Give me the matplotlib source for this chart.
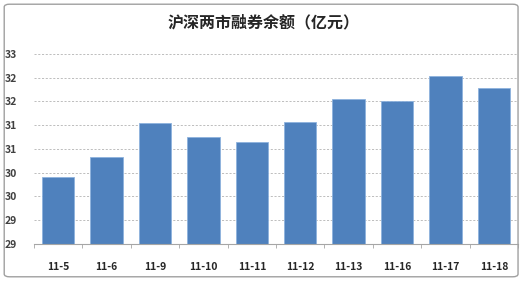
import numpy as np
from matplotlib import pyplot as plt
from matplotlib.patches import FancyBboxPatch
from matplotlib.ticker import FuncFormatter, MultipleLocator, FixedLocator

plt.rcParams['font.family'] = ['Noto Sans CJK SC', 'DejaVu Sans']

# data
dates = ['11-5', '11-6', '11-9', '11-10', '11-11', '11-12', '11-13', '11-16', '11-17', '11-18']
balance = [29.92, 30.33, 31.05, 30.75, 30.65, 31.06, 31.55, 31.50, 32.04, 31.78]

fig = plt.figure(figsize=(5.27, 2.81), dpi=100)
ax = fig.add_axes([0.0645, 0.1317, 0.9185, 0.6763])

x = np.arange(len(dates))
ax.bar(x, balance, width=0.67, bottom=0, color='#4F81BD', edgecolor='#8EB2DD', linewidth=0.6, zorder=3)

ax.set_ylim(28.5, 32.5)
ax.set_xlim(-0.5, len(dates) - 0.5)
ax.yaxis.set_major_locator(MultipleLocator(0.5))
# Excel-style rounding: 29.5 -> 30
ax.yaxis.set_major_formatter(FuncFormatter(lambda v, p: '%d' % int(np.floor(v + 0.5))))
ax.grid(axis='y', color='#B3B3B3', linestyle=(0, (2.5, 2)), linewidth=0.6, zorder=0)

ax.set_xticks(x)
ax.set_xticklabels(dates)
ax.xaxis.set_minor_locator(FixedLocator(np.arange(-0.5, len(dates), 1.0)))
ax.tick_params(axis='x', which='major', length=0, pad=13, labelsize=7.5, labelcolor='#262626')
ax.tick_params(axis='x', which='minor', length=3, color='#A6A6A6', direction='out')
ax.tick_params(axis='y', length=0, pad=12, labelsize=7.5, labelcolor='#404040')
for lab in ax.get_xticklabels() + ax.get_yticklabels():
    lab.set_fontweight('bold')

for side in ['left', 'right', 'top']:
    ax.spines[side].set_visible(False)
ax.spines['bottom'].set_color('#A6A6A6')
ax.spines['bottom'].set_zorder(4)

fig.text(0.5, 0.92, '沪深两市融券余额（亿元）', ha='center', va='center',
         fontsize=11.5, fontweight='bold', color='#262626')

# outer frame of the chart
frame = FancyBboxPatch((0.008, 0.015), 0.975, 0.97, boxstyle='round,pad=0,rounding_size=0.01',
                       transform=fig.transFigure, facecolor='none', edgecolor='#A0A0A0', linewidth=1)
fig.patches.append(frame)

fig.savefig('out.png', dpi=100)
